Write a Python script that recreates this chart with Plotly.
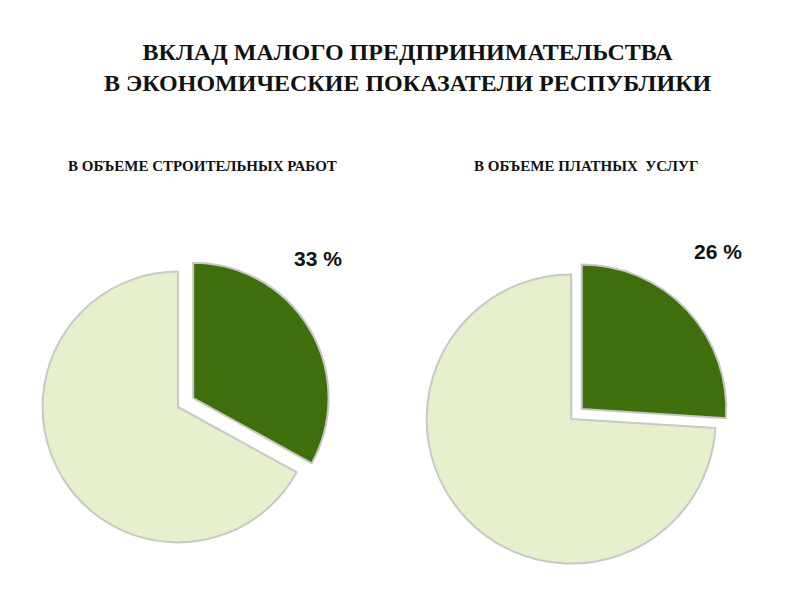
import plotly.graph_objects as go

categories = ["Малое предпринимательство", "Прочие"]
construction = [33, 67]
services = [26, 74]
subtitles = ["В ОБЪЕМЕ СТРОИТЕЛЬНЫХ РАБОТ", "В ОБЪЕМЕ ПЛАТНЫХ  УСЛУГ"]

colors = ["#3f6e0c", "#e6f0cd"]

fig = go.Figure()
fig.add_trace(go.Pie(
    labels=categories, values=construction, sort=False, direction="clockwise",
    rotation=0, pull=[0.13, 0], textinfo="none", hoverinfo="label+percent",
    marker=dict(colors=colors, line=dict(color="#c8c8c8", width=2)),
    domain=dict(x=[0.02, 0.405], y=[0.08, 0.59]), showlegend=False))
fig.add_trace(go.Pie(
    labels=categories, values=services, sort=False, direction="clockwise",
    rotation=0, pull=[0.1, 0], textinfo="none", hoverinfo="label+percent",
    marker=dict(colors=colors, line=dict(color="#c8c8c8", width=2)),
    domain=dict(x=[0.505, 0.903], y=[0.05, 0.58]), showlegend=False))

annotations = [
    dict(text="<b>ВКЛАД МАЛОГО ПРЕДПРИНИМАТЕЛЬСТВА<br>В ЭКОНОМИЧЕСКИЕ ПОКАЗАТЕЛИ РЕСПУБЛИКИ</b>",
         x=0.5, y=0.9, font=dict(family="Liberation Serif", size=24, color="#111")),
    dict(text="<b>" + subtitles[0] + "</b>", x=0.243, y=0.737,
         font=dict(family="Liberation Serif", size=15, color="#111")),
    dict(text="<b>" + subtitles[1] + "</b>", x=0.722, y=0.737,
         font=dict(family="Liberation Serif", size=15, color="#111")),
    dict(text="<b>%d %%</b>" % construction[0], x=0.388, y=0.582,
         font=dict(family="Liberation Sans", size=21, color="#111")),
    dict(text="<b>%d %%</b>" % services[0], x=0.888, y=0.594,
         font=dict(family="Liberation Sans", size=21, color="#111")),
]
for a in annotations:
    a.update(xref="paper", yref="paper", showarrow=False,
             xanchor="center", yanchor="middle")

fig.update_layout(width=800, height=600, margin=dict(l=0, r=0, t=0, b=0),
                  paper_bgcolor="white", annotations=annotations)
fig.write_html("out.html")
